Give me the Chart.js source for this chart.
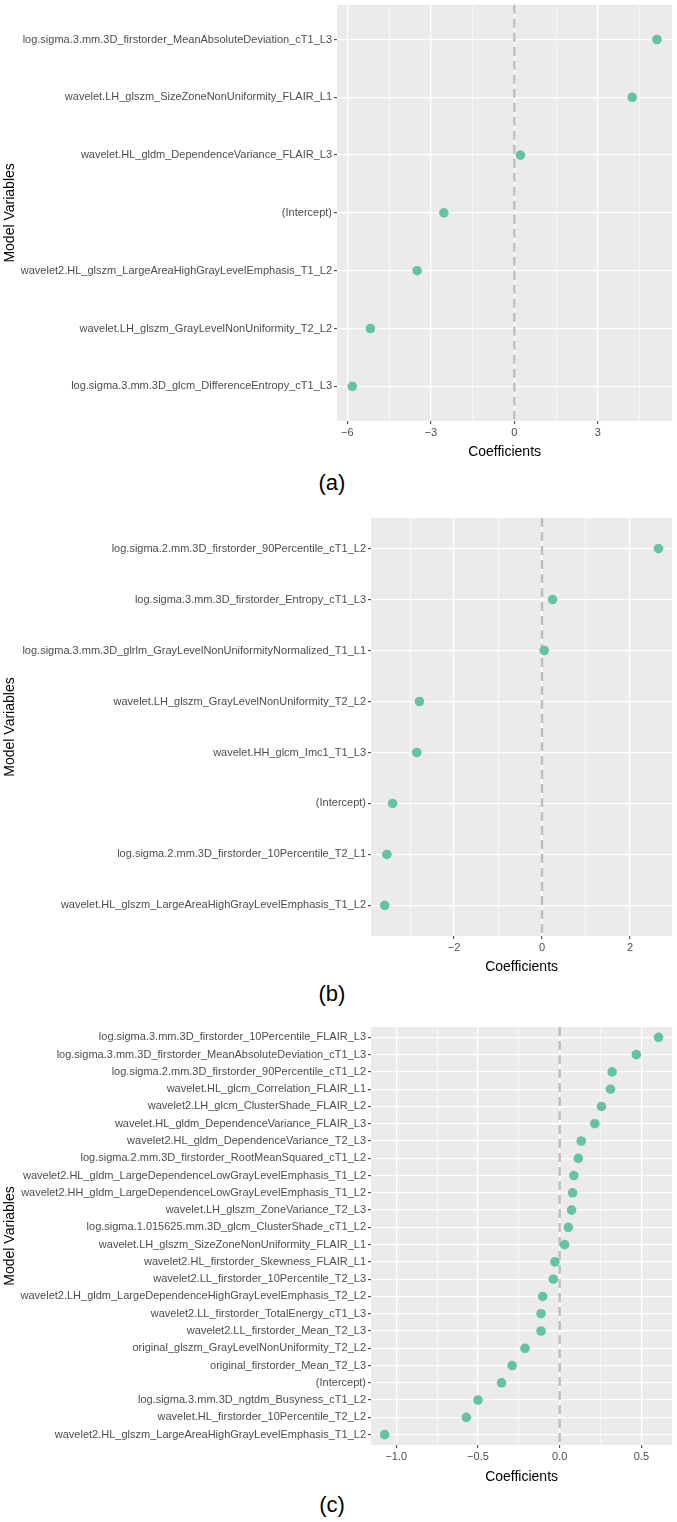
<!DOCTYPE html>
<html>
<head>
<meta charset="utf-8">
<script src="https://cdn.jsdelivr.net/npm/chart.js@4.4.1/dist/chart.umd.min.js"></script>
<style>
  body { margin: 0; background: #fff; width: 677px; height: 1522px; position: relative; font-family: "Liberation Sans", Arial, sans-serif; }
  canvas { position: absolute; left: 0; }
  .cap { position: absolute; left: 0; width: 664px; text-align: center; font-size: 22px; line-height: 26px; color: #000; }
</style>
</head>
<body>
<canvas id="chartA" width="677" height="461" style="top:0px"></canvas>
<div class="cap" style="top:470px">(a)</div>
<canvas id="chartB" width="677" height="471" style="top:505px"></canvas>
<div class="cap" style="top:981px">(b)</div>
<canvas id="chartC" width="677" height="471" style="top:1015px"></canvas>
<div class="cap" style="top:1492px">(c)</div>

<script>
// panel (a)
const labelsA = [
  'log.sigma.3.mm.3D_firstorder_MeanAbsoluteDeviation_cT1_L3',
  'wavelet.LH_glszm_SizeZoneNonUniformity_FLAIR_L1',
  'wavelet.HL_gldm_DependenceVariance_FLAIR_L3',
  '(Intercept)',
  'wavelet2.HL_glszm_LargeAreaHighGrayLevelEmphasis_T1_L2',
  'wavelet.LH_glszm_GrayLevelNonUniformity_T2_L2',
  'log.sigma.3.mm.3D_glcm_DifferenceEntropy_cT1_L3'
];
const valuesA = [5.12, 4.23, 0.22, -2.53, -3.49, -5.17, -5.82];
const majorsA = [-6, -3, 0, 3];
const minorsA = [-4.5, -1.5, 1.5, 4.5];

// panel (b)
const labelsB = [
  'log.sigma.2.mm.3D_firstorder_90Percentile_cT1_L2',
  'log.sigma.3.mm.3D_firstorder_Entropy_cT1_L3',
  'log.sigma.3.mm.3D_glrlm_GrayLevelNonUniformityNormalized_T1_L1',
  'wavelet.LH_glszm_GrayLevelNonUniformity_T2_L2',
  'wavelet.HH_glcm_Imc1_T1_L3',
  '(Intercept)',
  'log.sigma.2.mm.3D_firstorder_10Percentile_T2_L1',
  'wavelet.HL_glszm_LargeAreaHighGrayLevelEmphasis_T1_L2'
];
const valuesB = [2.65, 0.24, 0.05, -2.79, -2.85, -3.40, -3.53, -3.58];
const majorsB = [-2, 0, 2];
const minorsB = [-3, -1, 1];

// panel (c)
const labelsC = [
  'log.sigma.3.mm.3D_firstorder_10Percentile_FLAIR_L3',
  'log.sigma.3.mm.3D_firstorder_MeanAbsoluteDeviation_cT1_L3',
  'log.sigma.2.mm.3D_firstorder_90Percentile_cT1_L2',
  'wavelet.HL_glcm_Correlation_FLAIR_L1',
  'wavelet2.LH_glcm_ClusterShade_FLAIR_L2',
  'wavelet.HL_gldm_DependenceVariance_FLAIR_L3',
  'wavelet2.HL_gldm_DependenceVariance_T2_L3',
  'log.sigma.2.mm.3D_firstorder_RootMeanSquared_cT1_L2',
  'wavelet2.HL_gldm_LargeDependenceLowGrayLevelEmphasis_T1_L2',
  'wavelet2.HH_gldm_LargeDependenceLowGrayLevelEmphasis_T1_L2',
  'wavelet.LH_glszm_ZoneVariance_T2_L3',
  'log.sigma.1.015625.mm.3D_glcm_ClusterShade_cT1_L2',
  'wavelet.LH_glszm_SizeZoneNonUniformity_FLAIR_L1',
  'wavelet2.HL_firstorder_Skewness_FLAIR_L1',
  'wavelet2.LL_firstorder_10Percentile_T2_L3',
  'wavelet2.LH_gldm_LargeDependenceHighGrayLevelEmphasis_T2_L2',
  'wavelet2.LL_firstorder_TotalEnergy_cT1_L3',
  'wavelet2.LL_firstorder_Mean_T2_L3',
  'original_glszm_GrayLevelNonUniformity_T2_L2',
  'original_firstorder_Mean_T2_L3',
  '(Intercept)',
  'log.sigma.3.mm.3D_ngtdm_Busyness_cT1_L2',
  'wavelet.HL_firstorder_10Percentile_T2_L2',
  'wavelet2.HL_glszm_LargeAreaHighGrayLevelEmphasis_T1_L2'
];
const valuesC = [0.605, 0.469, 0.321, 0.311, 0.256, 0.215, 0.132, 0.114, 0.087, 0.079,
  0.073, 0.053, 0.030, -0.029, -0.039, -0.104, -0.114, -0.114, -0.212, -0.291,
  -0.356, -0.500, -0.571, -1.071];
const majorsC = [-1, -0.5, 0, 0.5];
const minorsC = [-0.75, -0.25, 0.25];

Chart.defaults.font.family = '"Liberation Sans", Arial, sans-serif';

const panelBg = {
  id: 'panelBg',
  beforeDraw(chart) {
    const { ctx, chartArea: a } = chart;
    ctx.save();
    ctx.fillStyle = '#EBEBEB';
    ctx.fillRect(a.left, a.top, a.width, a.height);
    ctx.restore();
  }
};

const zeroLine = {
  id: 'zeroLine',
  beforeDatasetsDraw(chart) {
    const { ctx, chartArea: a } = chart;
    const px = chart.scales.x.getPixelForValue(0);
    ctx.save();
    ctx.strokeStyle = '#BEBEBE';
    ctx.lineWidth = 2.4;
    ctx.setLineDash([9, 5]);
    ctx.beginPath();
    ctx.moveTo(px, a.top);
    ctx.lineTo(px, a.bottom);
    ctx.stroke();
    ctx.restore();
  }
};

function fmt(v, dec) {
  const s = Math.abs(v).toFixed(dec);
  return v < 0 ? '\u2212' + s : s;
}

function makeChart(id, labels, values, majors, minors, dec, yWidth, topPad, xHeight) {
  const lo = Math.min(...values);
  const hi = Math.max(...values);
  const pad = (hi - lo) * 0.05;
  const allTicks = majors.concat(minors).sort((a, b) => a - b);
  const isMajor = v => majors.includes(v);

  new Chart(document.getElementById(id), {
    type: 'scatter',
    plugins: [panelBg, zeroLine],
    data: {
      datasets: [{
        data: values.map((v, i) => ({ x: v, y: i + 1 })),
        backgroundColor: '#66C2A5',
        borderWidth: 0,
        pointRadius: 4.8,
        pointHoverRadius: 4.8
      }]
    },
    options: {
      responsive: false,
      animation: false,
      layout: { padding: { top: topPad, right: 3, left: 0, bottom: 0 } },
      plugins: { legend: { display: false }, tooltip: { enabled: false } },
      scales: {
        x: {
          type: 'linear',
          bounds: 'data',
          min: lo - pad,
          max: hi + pad,
          afterBuildTicks: s => { s.ticks = allTicks.map(v => ({ value: v })); },
          afterFit: s => { s.height = xHeight; s.paddingLeft = 0; s.paddingRight = 0; },
          border: { display: false },
          grid: {
            color: '#FFFFFF',
            lineWidth: c => isMajor(c.tick && c.tick.value) ? 1.3 : 0.6,
            tickLength: 3,
            tickWidth: 1,
            tickColor: c => isMajor(c.tick && c.tick.value) ? '#333333' : 'rgba(0,0,0,0)'
          },
          ticks: {
            autoSkip: false,
            maxRotation: 0,
            padding: 2,
            color: '#4D4D4D',
            font: { size: 11 },
            callback: v => isMajor(v) ? fmt(v, dec) : ''
          },
          title: {
            display: true,
            text: 'Coefficients',
            color: '#000000',
            font: { size: 14 },
            padding: { top: 0, bottom: 0 }
          }
        },
        y: {
          type: 'linear',
          reverse: true,
          bounds: 'data',
          min: 0.4,
          max: labels.length + 0.6,
          afterBuildTicks: s => { s.ticks = labels.map((_, i) => ({ value: i + 1 })); },
          afterFit: s => { s.width = yWidth; s.paddingTop = 0; s.paddingBottom = 0; },
          border: { display: false },
          grid: {
            color: '#FFFFFF',
            lineWidth: 1.3,
            tickLength: 3,
            tickWidth: 1,
            tickColor: '#333333'
          },
          ticks: {
            autoSkip: false,
            padding: 2,
            color: '#4D4D4D',
            font: { size: 11 },
            callback: v => labels[v - 1]
          },
          title: {
            display: true,
            text: 'Model Variables',
            color: '#000000',
            font: { size: 14 },
            padding: { top: 2, bottom: 0 }
          }
        }
      }
    }
  });
}

makeChart('chartA', labelsA, valuesA, majorsA, minorsA, 0, 337, 3, 40);
makeChart('chartB', labelsB, valuesB, majorsB, minorsB, 0, 371, 13, 40);
makeChart('chartC', labelsC, valuesC, majorsC, minorsC, 1, 371, 12, 41);
</script>
</body>
</html>
